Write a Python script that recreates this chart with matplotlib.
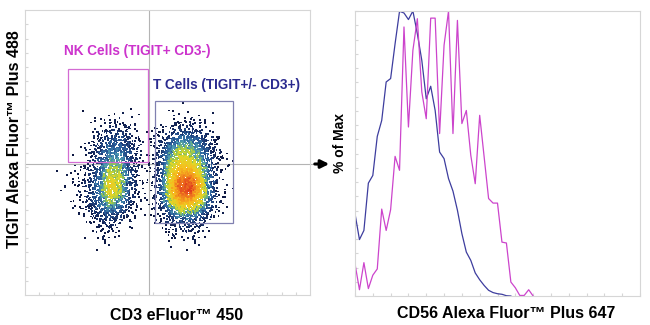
import numpy as np
import matplotlib
matplotlib.use('Agg')
import matplotlib.pyplot as plt
from matplotlib.patches import Rectangle
from matplotlib.colors import LinearSegmentedColormap

plt.rcParams['font.family'] = ['Liberation Sans', 'DejaVu Sans']

# ---- CD56 histograms, % of max per channel bin ----
cd56_t_cells = [28.9, 19.8, 23.0, 39.6, 42.3, 56.0, 61.6, 75.1, 76.3, 88.5,
                99.9, 99.3, 97.0, 100.0, 92.0, 82.7, 69.2, 73.6, 65.1, 50.5,
                48.2, 41.2, 36.8, 30.1, 21.9, 15.4, 12.5, 8.1, 5.7, 3.7,
                2.0, 1.2, 0.8, 0.6, 0.1, 0.0]
cd56_nk_cells = [11.3, 2.2, 11.7, 2.6, 7.3, 9.5, 30.5, 23.0, 30.3, 49.0,
                 44.1, 94.4, 59.3, 86.2, 97.3, 71.6, 62.2, 97.5, 97.5, 57.0,
                 88.0, 100.0, 57.0, 96.7, 60.5, 65.1, 49.4, 39.4, 63.4, 48.8,
                 34.2, 32.6, 32.6, 18.9, 18.6, 4.9, 2.9, 0.2, 0.2, 2.2, 0.0]
n_bins = 64

# ---- dot plot: event density (0-9) read on a coarse grid, rows top to bottom ----
cd3_neg_origin = (10.53, 66.67)   # top-left corner of grid (CD3, TIGIT units)
cd3_neg_density = [
    [0, 0, 0, 0, 0, 0.1, 0.1, 0.05, 0, 0],
    [0, 0, 0, 0.05, 0.2, 0.5, 0.5, 0.3, 0.1, 0],
    [0, 0, 0, 0.1, 0.6, 1.3, 1.4, 1.0, 0.3, 0],
    [0, 0, 0.05, 0.3, 1.2, 2.2, 2.3, 1.5, 0.4, 0.05],
    [0, 0, 0.1, 0.6, 1.8, 3.0, 3.0, 1.8, 0.5, 0.1],
    [0, 0.05, 0.2, 0.9, 2.2, 3.8, 3.6, 2.0, 0.5, 0.1],
    [0.05, 0.1, 0.3, 1.2, 2.6, 4.6, 4.2, 2.0, 0.5, 0.1],
    [0.05, 0.1, 0.4, 1.5, 3.0, 5.2, 4.6, 2.0, 0.5, 0.1],
    [0, 0.1, 0.4, 1.7, 3.3, 5.6, 4.4, 1.8, 0.4, 0.05],
    [0, 0.05, 0.3, 1.4, 3.0, 4.6, 3.4, 1.5, 0.3, 0],
    [0, 0.05, 0.2, 1.0, 2.2, 3.0, 2.2, 0.9, 0.2, 0],
    [0, 0, 0.05, 0.5, 1.2, 1.6, 1.2, 0.4, 0.05, 0],
    [0, 0, 0, 0.15, 0.5, 0.7, 0.5, 0.2, 0, 0],
    [0, 0, 0, 0.05, 0.2, 0.25, 0.2, 0.05, 0, 0],
    [0, 0, 0, 0, 0.05, 0.1, 0.05, 0, 0, 0],
]
cd3_pos_origin = (42.11, 66.67)
cd3_pos_density = [
    [0, 0, 0, 0.05, 0.1, 0.05, 0, 0, 0],
    [0, 0.05, 0.2, 0.4, 0.4, 0.4, 0.15, 0, 0],
    [0, 0.3, 1.0, 1.6, 1.8, 1.3, 0.6, 0.1, 0],
    [0.05, 0.9, 2.2, 3.2, 3.2, 2.5, 1.2, 0.3, 0],
    [0.1, 1.4, 3.2, 4.5, 4.3, 3.3, 1.7, 0.4, 0],
    [0.15, 1.8, 4.0, 5.3, 5.0, 4.0, 2.0, 0.5, 0.05],
    [0.2, 2.0, 4.8, 6.4, 6.4, 4.8, 2.4, 0.5, 0.05],
    [0.2, 2.2, 5.3, 7.6, 8.2, 5.8, 2.6, 0.5, 0.05],
    [0.15, 2.0, 5.3, 8.2, 8.6, 6.0, 2.6, 0.5, 0.05],
    [0.1, 1.6, 4.6, 6.8, 6.8, 5.2, 2.2, 0.4, 0],
    [0.05, 1.0, 3.0, 4.6, 4.6, 3.4, 1.4, 0.3, 0],
    [0, 0.4, 1.5, 2.4, 2.4, 1.7, 0.7, 0.1, 0],
    [0, 0.1, 0.5, 0.9, 0.9, 0.6, 0.25, 0.05, 0],
    [0, 0, 0.1, 0.25, 0.25, 0.2, 0.05, 0, 0],
    [0, 0, 0, 0.05, 0.05, 0.05, 0, 0, 0],
    [0, 0, 0, 0.04, 0, 0, 0, 0, 0],
    [0, 0, 0, 0, 0.03, 0, 0, 0, 0],
    [0, 0, 0, 0, 0.04, 0, 0, 0, 0],
]
grid_cell = 3.509

# gates: x, y, width, height
nk_gate = [15.1, 46.7, 28.1, 32.6]
t_gate = [45.6, 25.3, 27.4, 42.8]
cd3_split = 43.5
tigit_split = 46.0

flow_cmap = LinearSegmentedColormap.from_list('flow', [
    (0.00, '#0c1640'), (0.20, '#1b3670'), (0.33, '#2d64a0'),
    (0.42, '#4f9db0'), (0.48, '#86c05a'), (0.56, '#dcd82a'),
    (0.70, '#f5c01e'), (0.85, '#f28a1e'), (1.00, '#e03c1e')])


def hash01(i, j, k):
    # deterministic scatter of dots inside a sub-cell
    h = (i * 374761393 + j * 668265263 + k * 2147483647) & 0xFFFFFFFF
    h = ((h ^ (h >> 13)) * 1274126177) & 0xFFFFFFFF
    h ^= h >> 16
    return (h & 0xFFFFFF) / 16777216.0


def density_dots(grid, origin, cell, sub=5, per_cell=14.0):
    # spread dots over a fine sub-grid following the bilinear density
    g = np.pad(np.asarray(grid, float), 1)
    nr, nc = g.shape
    x0, ytop = origin
    step = cell / sub
    fx = x0 - cell + (np.arange(nc * sub) + 0.5) * step
    fy = ytop + cell - (np.arange(nr * sub) + 0.5) * step
    ix = (fx - x0) / cell + 0.5
    iy = (ytop - fy) / cell + 0.5
    rows = np.array([np.interp(ix, np.arange(nc), r) for r in g])
    dens = np.array([np.interp(iy, np.arange(nr), rows[:, k]) for k in range(len(fx))]).T
    xs, ys, ds = [], [], []
    for j in range(len(fy)):
        for i in range(len(fx)):
            e = dens[j, i] * per_cell / sub ** 2
            n = int(np.floor(e + hash01(i, j, 7)))
            for k in range(n):
                ox = hash01(i, j, 3 * k + 11)
                oy = hash01(i, j, 3 * k + 12)
                xs.append(fx[i] + (ox - 0.5) * step * 2.0)
                ys.append(fy[j] + (oy - 0.5) * step * 2.0)
                ds.append(dens[j, i] + (hash01(i, j, 3 * k + 13) - 0.5) * 1.2)
    return np.array(xs), np.array(ys), np.array(ds)


fig = plt.figure(figsize=(6.5, 3.25), dpi=100)
ax1 = fig.add_axes([25 / 650, 30 / 325, 285 / 650, 285 / 325])
ax2 = fig.add_axes([355 / 650, 29 / 325, 285 / 650, 285 / 325])

light = '#d6d6d6'
for ax in (ax1, ax2):
    for s in ax.spines.values():
        s.set_color(light)
        s.set_linewidth(0.8)
    ax.tick_params(which='both', direction='in', colors=light, length=2.5,
                   labelleft=False, labelbottom=False)

# ---- left: dot plot ----
xs, ys, ds = [], [], []
for grid, origin in ((cd3_neg_density, cd3_neg_origin), (cd3_pos_density, cd3_pos_origin)):
    x, y, d = density_dots(grid, origin, grid_cell)
    xs.append(x); ys.append(y); ds.append(d)
xs = np.concatenate(xs); ys = np.concatenate(ys); ds = np.concatenate(ds)
order = np.argsort(ds)
ax1.scatter(xs[order], ys[order], c=ds[order], cmap=flow_cmap, vmin=0, vmax=9,
            s=1.7, marker='s', linewidths=0, zorder=2)

ax1.axvline(cd3_split, color='#b4b4b4', lw=0.8, zorder=1)
ax1.plot([0, 102.5], [tigit_split, tigit_split], color='#b4b4b4', lw=0.8,
         zorder=1, clip_on=False)
ax1.add_patch(Rectangle(nk_gate[:2], nk_gate[2], nk_gate[3], fill=False,
                        ec='#d36bd3', lw=0.9, zorder=3))
ax1.add_patch(Rectangle(t_gate[:2], t_gate[2], t_gate[3], fill=False,
                        ec='#8080b0', lw=0.9, zorder=3))
ax1.text(13.7, 85.6, 'NK Cells (TIGIT+ CD3-)', color='#cc33cc', fontsize=9.8,
         fontweight='bold', va='center', ha='left')
ax1.text(44.9, 73.7, 'T Cells (TIGIT+/- CD3+)', color='#2b2b8f', fontsize=9.8,
         fontweight='bold', va='center', ha='left')
ax1.set_xlim(0, 100)
ax1.set_ylim(0, 100)
ax1.set_xticks(np.arange(5, 100, 5))
ax1.set_yticks(np.arange(5, 100, 5))

# ---- right: histogram overlay ----
ax2.plot([0] + list(range(len(cd56_t_cells))), [0] + cd56_t_cells,
         color='#3d3d9e', lw=0.9)
ax2.plot(range(len(cd56_nk_cells)), cd56_nk_cells, color='#cc44cc', lw=0.9)
ax2.set_xlim(0, n_bins)
ax2.set_ylim(0, 100)
ax2.set_yticks(np.arange(0, 101, 5))
ax2.set_xticks(np.arange(0, n_bins + 1, 4))

# axis titles
lab = dict(fontsize=11.5, fontweight='bold', ha='center', va='center')
fig.text(177 / 650, 1 - 315 / 325, 'CD3 eFluor™ 450', **lab)
fig.text(15 / 650, 1 - 139 / 325, 'TIGIT Alexa Fluor™ Plus 488', rotation=90, **lab)
fig.text(506 / 650, 1 - 313 / 325, 'CD56 Alexa Fluor™ Plus 647', **lab)
fig.text(340 / 650, 1 - 143 / 325, '% of Max', rotation=90, fontsize=10,
         fontweight='bold', ha='center', va='center')

ax1.annotate('', xy=(332 / 650, 1 - 164 / 325), xytext=(312 / 650, 1 - 164 / 325),
             xycoords='figure fraction',
             arrowprops=dict(arrowstyle='-|>', color='black', lw=2.2,
                             mutation_scale=12))

fig.savefig('out.png', dpi=100, facecolor='white')
